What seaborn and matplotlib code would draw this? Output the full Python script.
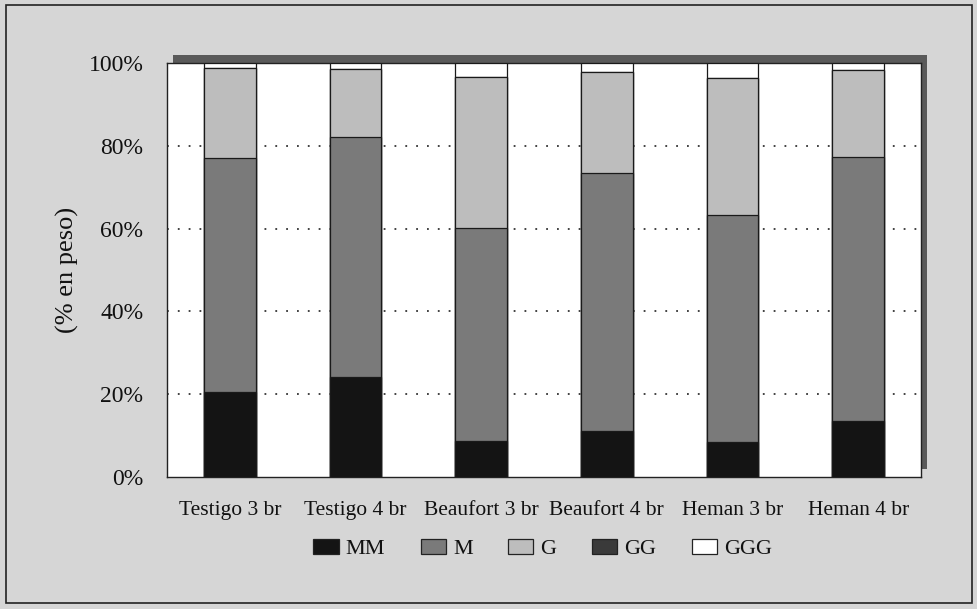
import matplotlib
matplotlib.use("Agg")
import matplotlib.pyplot as plt
from matplotlib.patches import Rectangle, Patch
import seaborn as sns
import pandas as pd
import numpy as np

categories = ["Testigo 3 br", "Testigo 4 br", "Beaufort 3 br", "Beaufort 4 br", "Heman 3 br", "Heman 4 br"]
series = ["MM", "M", "G", "GG", "GGG"]
mm = [20.5, 24.2, 8.7, 11.1, 8.5, 13.5]
m = [56.5, 57.9, 51.4, 62.3, 54.8, 63.8]
g = [21.8, 16.5, 36.5, 24.4, 33.1, 21.0]
gg = [0.0, 0.0, 0.0, 0.0, 0.0, 0.0]
ggg = [1.2, 1.4, 3.4, 2.2, 3.6, 1.7]
yticks = [0, 20, 40, 60, 80, 100]
ytick_labels = ["0%", "20%", "40%", "60%", "80%", "100%"]
colors = {"MM": "#141414", "M": "#7a7a7a", "G": "#bdbdbd", "GG": "#3a3a3a", "GGG": "#ffffff"}

df = pd.DataFrame({"cat": categories, "MM": mm, "M": m, "G": g, "GG": gg, "GGG": ggg})
cum = df[series].cumsum(axis=1)
cum["cat"] = df["cat"]

sns.set_style("white")
plt.rcParams["font.family"] = ["Liberation Serif", "DejaVu Serif"]
plt.rcParams["text.color"] = "#111111"
plt.rcParams["xtick.color"] = "#111111"
plt.rcParams["ytick.color"] = "#111111"
plt.rcParams["axes.labelcolor"] = "#111111"

fig = plt.figure(figsize=(9.78, 6.09), dpi=100)
fig.patch.set_facecolor("#d6d6d6")
fig.patches.append(Rectangle((0.006, 0.01), 0.988, 0.982, transform=fig.transFigure,
                             fill=False, edgecolor="#222222", lw=1.2, zorder=0))
# shadow behind plot area
l, b, r, t = 167/978, 1-477/609, 921/978, 1-63/609
fig.patches.append(Rectangle((l + 6/978, b + 8/609), r - l, t - b, transform=fig.transFigure,
                             facecolor="#5a5a5a", edgecolor="none", zorder=0))

ax = fig.add_axes([l, b, r - l, t - b])
ax.set_facecolor("white")
ax.set_zorder(1)

for s in reversed(series):
    sns.barplot(data=cum, x="cat", y=s, order=categories, color=colors[s], width=0.41,
                edgecolor="#1a1a1a", linewidth=0.9, saturation=1, ax=ax, zorder=3)

for yv in [20, 40, 60, 80]:
    ax.axhline(yv, color="#333333", lw=1.3, linestyle=(0, (1, 5)), zorder=1)

ax.set_xlim(-0.5, len(categories) - 0.5)
ax.set_ylim(0, 100)
ax.set_yticks(yticks)
ax.set_yticklabels(ytick_labels, fontsize=17)
ax.set_xticks(range(len(categories)))
ax.set_xticklabels(categories, fontsize=15.5)
ax.set_xticks(np.arange(-0.5, len(categories), 1.0), minor=True)
ax.tick_params(axis="x", which="major", length=0, pad=17)
ax.tick_params(axis="x", which="minor", length=8, width=1, direction="out", color="#222222")
ax.tick_params(axis="y", length=9, width=1, direction="out", color="#222222", pad=8)
ax.set_xlabel("")
ax.set_ylabel("(% en peso)", fontsize=19, labelpad=7)
for sp in ax.spines.values():
    sp.set_visible(True)
    sp.set_color("#222222")
    sp.set_linewidth(1.0)

handles = [Patch(facecolor=colors[s], edgecolor="#222222", linewidth=0.9, label=s) for s in series]
fig.legend(handles=handles, loc="center", bbox_to_anchor=(0.555, 1-549/609), ncol=5,
           frameon=False, fontsize=16, handlelength=1.13, handleheight=0.63,
           columnspacing=1.6, handletextpad=0.32)

fig.savefig("out.png", dpi=100, facecolor=fig.get_facecolor())
